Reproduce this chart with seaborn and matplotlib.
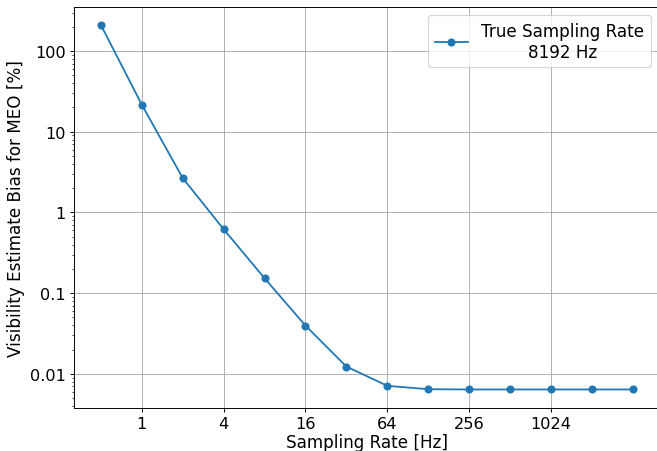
import matplotlib
matplotlib.use("Agg")
import matplotlib.pyplot as plt
import matplotlib.ticker as mticker
import seaborn as sns
import pandas as pd

# sampling rates (Hz) and bias values
rates = [0.5, 1, 2, 4, 8, 16, 32, 64, 128, 256, 512, 1024, 2048, 4096]
bias = [211, 21.7, 2.67, 0.62, 0.153, 0.0396, 0.0123, 0.0071, 0.00645,
        0.0064, 0.0064, 0.0064, 0.0064, 0.0064]
xtick_vals = [1, 4, 16, 64, 256, 1024]
ytick_vals = [0.01, 0.1, 1, 10, 100]

df = pd.DataFrame({'rate': rates, 'bias': bias})

plt.rcParams['font.size'] = 14
DPI = 86

fig, ax = plt.subplots(figsize=(657 / DPI, 452 / DPI), dpi=DPI)
sns.lineplot(data=df, x='rate', y='bias', marker='o', markersize=6,
             color='#1f77b4', markeredgecolor='#1f77b4', linewidth=1.5,
             label='True Sampling Rate\n8192 Hz', ax=ax)

ax.set_xscale('log', base=2)
ax.set_yscale('log')
ax.set_xticks(xtick_vals)
ax.set_xticklabels([str(v) for v in xtick_vals])
ax.xaxis.set_minor_locator(mticker.NullLocator())
ax.set_yticks(ytick_vals)
ax.yaxis.set_major_formatter(mticker.FuncFormatter(lambda v, p: '{:g}'.format(v)))
ax.yaxis.set_minor_formatter(mticker.NullFormatter())
ax.tick_params(labelsize=13.5)
ax.grid(True, which='major')

ax.set_xlabel('Sampling Rate [Hz]', fontsize=14, labelpad=2)
ax.set_ylabel('Visibility Estimate Bias for MEO [%]', fontsize=14)

leg = ax.legend(loc='upper right', fontsize=14)
for t in leg.get_texts():
    t.set_multialignment('center')

# right spine sits just outside the cropped image in the original
fig.subplots_adjust(left=0.113, right=1.0038, bottom=0.0958, top=0.983)
plt.savefig('out.png', dpi=DPI)
